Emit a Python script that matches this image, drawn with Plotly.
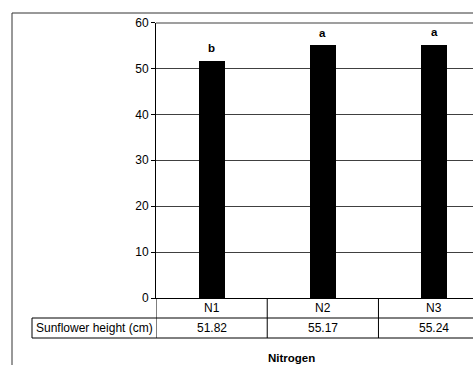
import plotly.graph_objects as go

categories = ["N1", "N2", "N3"]
heights = [51.82, 55.17, 55.24]
letters = ["b", "a", "a"]
value_labels = ["51.82", "55.17", "55.24"]
row_label = "Sunflower height (cm)"
x_title = "Nitrogen"
y_ticks = [0, 10, 20, 30, 40, 50, 60]

W, H = 473, 365
PX_L, PX_R = 156, 473
PX_T, PX_B = 22.5, 298

def px(x):
    return x / W

def py(y):
    return 1 - y / H

FONT = "Liberation Sans, Arial, sans-serif"
FS = 12

fig = go.Figure()
fig.add_trace(go.Bar(
    x=list(range(len(categories))), y=heights,
    marker=dict(color="black", line=dict(width=0)),
    width=0.235, showlegend=False, hoverinfo="skip",
))

annotations = []
for i, (h, lt) in enumerate(zip(heights, letters)):
    annotations.append(dict(x=i, y=h, xref="x", yref="y", text=f"<b>{lt}</b>",
                            showarrow=False, yanchor="bottom", yshift=4,
                            font=dict(family=FONT, size=11.5, color="black")))
for i, (c, v) in enumerate(zip(categories, value_labels)):
    annotations.append(dict(x=i, y=py(308), xref="x", yref="paper", text=c,
                            showarrow=False, yanchor="middle",
                            font=dict(family=FONT, size=FS, color="black")))
    annotations.append(dict(x=i, y=py(328), xref="x", yref="paper", text=v,
                            showarrow=False, yanchor="middle",
                            font=dict(family=FONT, size=FS, color="black")))
annotations.append(dict(x=px(94), y=py(328), xref="paper", yref="paper", text=row_label,
                        showarrow=False, yanchor="middle", xanchor="center",
                        font=dict(family=FONT, size=FS, color="black")))
annotations.append(dict(x=px(291), y=py(358), xref="paper", yref="paper", text=f"<b>{x_title}</b>",
                        showarrow=False, yanchor="middle", xanchor="center",
                        font=dict(family=FONT, size=11.5, color="black")))

line_black = dict(color="black", width=1)
shapes = [
    # outer frame
    dict(type="line", xref="paper", yref="paper", x0=px(12), x1=1.0, y0=py(13), y1=py(13),
         line=dict(color="#333333", width=1)),
    dict(type="line", xref="paper", yref="paper", x0=px(12), x1=px(12), y0=py(13), y1=py(368),
         line=dict(color="#333333", width=1)),
    # top plot border
    dict(type="line", xref="paper", yref="y", x0=px(PX_L), x1=1.0, y0=60, y1=60,
         line=dict(color="#404040", width=2)),
    # table horizontal lines
    dict(type="line", xref="paper", yref="paper", x0=px(32), x1=1.0, y0=py(318), y1=py(318), line=line_black),
    dict(type="line", xref="paper", yref="paper", x0=px(32), x1=1.0, y0=py(338), y1=py(338), line=line_black),
    # table left cell border
    dict(type="line", xref="paper", yref="paper", x0=px(32), x1=px(32), y0=py(318), y1=py(338), line=line_black),
]
for b in [-0.5, 0.5, 1.5]:
    shapes.append(dict(type="line", xref="x", yref="paper", x0=b, x1=b, y0=py(298), y1=py(338), line=line_black))

fig.update_layout(
    template="none",
    width=W, height=H,
    margin=dict(l=0, r=0, t=0, b=0, pad=0, autoexpand=False),
    paper_bgcolor="white", plot_bgcolor="white",
    xaxis=dict(domain=[px(PX_L), 1.0], range=[-0.5, 2.35], showticklabels=False,
               showgrid=False, zeroline=False, showline=True, linecolor="black", linewidth=1,
               ticks="", fixedrange=True, automargin=False),
    yaxis=dict(domain=[py(PX_B), py(PX_T)], range=[0, 60], tickvals=y_ticks,
               ticks="outside", ticklen=4, tickcolor="black", tickwidth=1,
               tickfont=dict(family=FONT, size=FS, color="black"),
               showgrid=True, gridcolor="#404040", gridwidth=1,
               zeroline=False, showline=True, linecolor="black", linewidth=1,
               fixedrange=True, automargin=False),
    annotations=annotations, shapes=shapes, bargap=0,
)

fig.write_html("out.html", config={"displayModeBar": False})
